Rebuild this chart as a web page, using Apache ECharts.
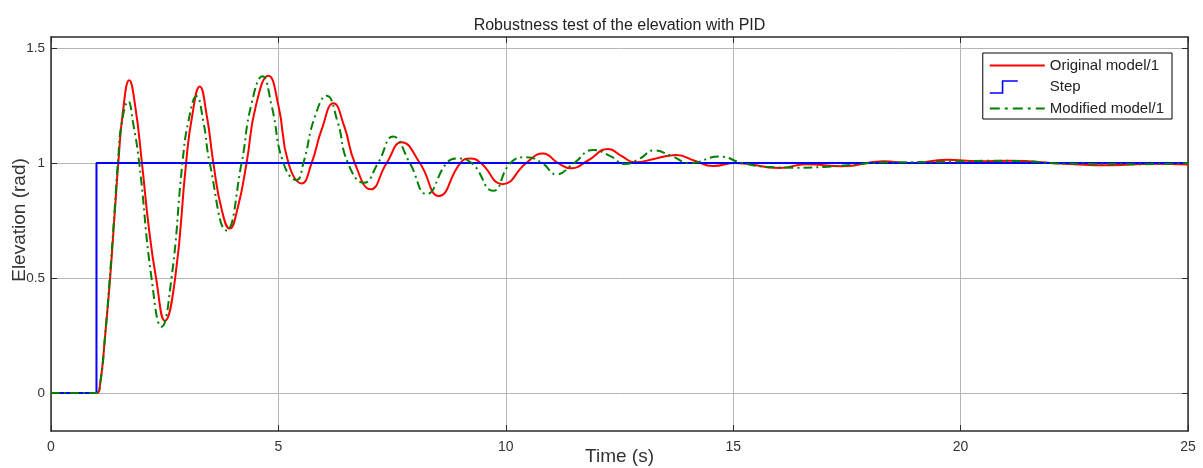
<!DOCTYPE html>
<html>
<head>
<meta charset="utf-8">
<script src="https://cdn.jsdelivr.net/npm/echarts@6/dist/echarts.min.js"></script>
<style>html,body{margin:0;padding:0;background:#fff;}#chart{width:1203px;height:468px;}</style>
</head>
<body>
<div id="chart"></div>
<script>
const chartTitle = 'Robustness test of the elevation with PID';
const xName = 'Time (s)';
const yName = 'Elevation (rad)';
const seriesNames = ['Original model/1', 'Step', 'Modified model/1'];
const xTicks = [0, 5, 10, 15, 20, 25];
const yTicks = [0, 0.5, 1, 1.5];

const tOrig = [0, 1.0, 1.08, 1.19, 1.30, 1.40, 1.48, 1.58, 1.72, 1.85, 2.0, 2.15, 2.31, 2.505, 2.73, 2.97, 3.10, 3.27, 3.43, 3.57, 3.75, 3.93, 4.10, 4.30, 4.50, 4.78, 5.00, 5.22, 5.51, 5.73, 5.95, 6.21, 6.45, 6.68, 7.03, 7.38, 7.71, 8.11, 8.53, 9.00, 9.22, 9.45, 9.93, 10.45, 10.82, 11.15, 11.44, 11.8, 12.25, 12.55, 12.84, 13.3, 13.75, 14.15, 14.56, 15.05, 16.02, 16.6, 17.4, 18.3, 18.9, 19.7, 20.4, 21.1, 22.2, 23.3, 24.2, 25];
const yOrig = [0, 0, 0.04, 0.25, 0.50, 0.78, 1.0, 1.22, 1.36, 1.25, 1.0, 0.72, 0.5, 0.314, 0.5, 1.0, 1.2, 1.333, 1.2, 1.0, 0.8, 0.715, 0.8, 1.0, 1.245, 1.38, 1.25, 1.0, 0.911, 1.0, 1.145, 1.26, 1.158, 1.0, 0.886, 1.0, 1.09, 1.0, 0.857, 1.0, 1.02, 1.0, 0.908, 1.0, 1.042, 1.0, 0.977, 1.01, 1.061, 1.03, 1.003, 1.02, 1.035, 1.01, 0.987, 1.0, 0.978, 0.995, 0.986, 1.008, 1.0, 1.014, 1.008, 1.01, 0.998, 0.99, 0.997, 0.994];

const tStep = [0, 1, 1, 25];
const yStep = [0, 0, 1, 1];

const tMod = [0, 1.0, 1.08, 1.19, 1.30, 1.40, 1.47, 1.56, 1.70, 1.80, 1.94, 2.21, 2.43, 2.65, 2.89, 3.02, 3.20, 3.35, 3.49, 3.86, 4.19, 4.40, 4.65, 4.85, 5.11, 5.40, 5.55, 5.80, 6.06, 6.30, 6.53, 6.88, 7.19, 7.52, 7.89, 8.26, 8.70, 8.92, 9.25, 9.72, 10.1, 10.45, 10.8, 11.11, 11.5, 11.92, 12.3, 12.62, 12.95, 13.25, 13.65, 14.04, 14.70, 15.2, 15.73, 16.4, 17.0, 17.6, 18.2, 19.0, 19.8, 20.6, 21.4, 22.3, 23.2, 24.0, 25];
const yMod = [0, 0, 0.04, 0.25, 0.52, 0.80, 1.0, 1.18, 1.268, 1.18, 1.0, 0.5, 0.288, 0.5, 1.0, 1.18, 1.29, 1.18, 1.0, 0.707, 1.0, 1.25, 1.377, 1.25, 1.0, 0.926, 1.0, 1.2, 1.293, 1.18, 1.0, 0.914, 1.0, 1.115, 1.0, 0.865, 1.0, 1.02, 1.0, 0.879, 1.0, 1.025, 1.0, 0.951, 1.0, 1.057, 1.03, 0.996, 1.02, 1.055, 1.03, 1.0, 1.028, 1.0, 0.984, 0.98, 0.983, 0.992, 1.002, 1.004, 1.006, 1.01, 1.008, 0.997, 0.996, 0.995, 1.0];

function pairs(xs, ys) { return xs.map((x, i) => [x, ys[i]]); }

const chart = echarts.init(document.getElementById('chart'), null, {renderer: 'canvas'});
const axisColor = '#2b2b2b';
const gridColor = '#b5b5b5';
const font = '"Liberation Sans", Arial, sans-serif';

const lineIcon = 'path://M0,0 L55,0 L55,2 L0,2 Z';
const dashDotIcon = 'path://M0,0 L10,0 L10,2 L0,2 Z M15,0 L18,0 L18,2 L15,2 Z M23,0 L33,0 L33,2 L23,2 Z M38,0 L41,0 L41,2 L38,2 Z M46,0 L55,0 L55,2 L46,2 Z';
const stepIcon = 'path://M0,12 L12,12 L12,0 L28,0 L28,1.6 L13.6,1.6 L13.6,13.6 L0,13.6 Z M55,0 L55,0.01 L54.99,0 Z';

const axisCommon = {
  nameMoveOverlap: false,
  axisLine: {show: true, onZero: false, lineStyle: {color: axisColor, width: 1.5}},
  axisTick: {show: true, inside: true, length: 6, lineStyle: {color: axisColor, width: 1}}
};

const option = {
  animation: false,
  backgroundColor: '#fff',
  textStyle: {fontFamily: font},
  title: {
    text: chartTitle,
    left: 619.5,
    top: 18,
    padding: 0,
    textAlign: 'center',
    textStyle: {fontSize: 16, fontWeight: 'normal', color: '#222', fontFamily: font}
  },
  legend: {
    orient: 'vertical',
    right: 31,
    top: 53,
    padding: [5, 8, 3, 7],
    itemGap: 6.5,
    itemWidth: 55,
    itemHeight: 14,
    borderColor: '#000',
    borderWidth: 1,
    borderRadius: 0,
    backgroundColor: '#fff',
    textStyle: {fontSize: 15, color: '#222', fontFamily: font},
    data: [
      {name: seriesNames[0], icon: lineIcon, itemStyle: {borderWidth: 0, color: '#ff0000'}},
      {name: seriesNames[1], icon: stepIcon, itemStyle: {borderWidth: 0, color: '#0000ff'}},
      {name: seriesNames[2], icon: dashDotIcon, itemStyle: {borderWidth: 0, color: '#008000'}}
    ]
  },
  grid: {left: 51, right: 15, top: 37, bottom: 37, containLabel: false, outerBoundsMode: 'none'},
  xAxis: [Object.assign({}, axisCommon, {
    type: 'value', min: 0, max: 25, interval: 5, position: 'bottom',
    name: xName, nameLocation: 'middle', nameGap: 16,
    nameTextStyle: {fontSize: 19, color: '#333', fontFamily: font},
    axisLabel: {fontSize: 14, color: '#333', margin: 9, customValues: xTicks},
    splitLine: {show: true, lineStyle: {color: gridColor, width: 1}}
  }), Object.assign({}, axisCommon, {
    type: 'value', min: 0, max: 25, interval: 5, position: 'top',
    axisLabel: {show: false},
    splitLine: {show: false}
  })],
  yAxis: [Object.assign({}, axisCommon, {
    type: 'value', min: -0.165, max: 1.548, position: 'left',
    name: yName, nameLocation: 'middle', nameGap: 22, nameRotate: 90,
    nameTextStyle: {fontSize: 19, color: '#333', fontFamily: font, padding: [0, 0, 0, 28]},
    axisTick: {show: true, inside: true, length: 6, customValues: yTicks, lineStyle: {color: axisColor, width: 1}},
    axisLabel: {fontSize: 13.5, color: '#333', margin: 6, customValues: yTicks},
    splitLine: {show: true, lineStyle: {color: gridColor, width: 1}}
  }), Object.assign({}, axisCommon, {
    type: 'value', min: -0.165, max: 1.548, position: 'right',
    axisTick: {show: true, inside: true, length: 6, customValues: yTicks, lineStyle: {color: axisColor, width: 1}},
    axisLabel: {show: false},
    splitLine: {show: false}
  })],
  series: [
    {
      name: seriesNames[0], type: 'line', data: pairs(tOrig, yOrig),
      showSymbol: false, symbol: 'none', smooth: 0.5,
      lineStyle: {color: '#ff0000', width: 2}, itemStyle: {color: '#ff0000'}
    },
    {
      name: seriesNames[1], type: 'line', data: pairs(tStep, yStep),
      showSymbol: false, symbol: 'none', smooth: false,
      lineStyle: {color: '#0000ff', width: 2}, itemStyle: {color: '#0000ff', borderWidth: 0}
    },
    {
      name: seriesNames[2], type: 'line', data: pairs(tMod, yMod),
      showSymbol: false, symbol: 'none', smooth: 0.5,
      lineStyle: {color: '#008000', width: 2, type: [9, 4, 2, 4]}, itemStyle: {color: '#008000'}
    }
  ]
};
chart.setOption(option);
</script>
</body>
</html>
